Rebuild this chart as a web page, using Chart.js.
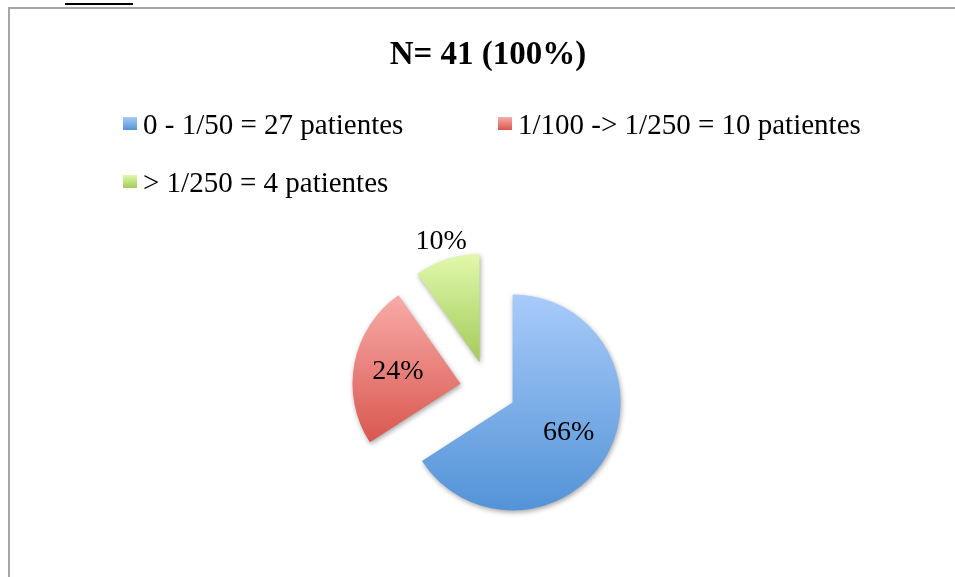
<!DOCTYPE html>
<html>
<head>
<meta charset="utf-8">
<script src="https://cdn.jsdelivr.net/npm/chart.js@4/dist/chart.umd.min.js"></script>
<style>
  html, body { margin: 0; padding: 0; background: #fff; }
  body { width: 955px; height: 577px; position: relative; overflow: hidden; font-family: "Liberation Serif", serif; }
  #frame { position: absolute; left: 8px; top: 7px; width: 1000px; height: 620px; border-left: 2px solid #a6a6a6; border-top: 2px solid #a6a6a6; }
  #caption-line { position: absolute; left: 65px; top: 3px; width: 68px; height: 2px; background: #000; }
  #wrap { position: absolute; left: 0; top: 0; width: 955px; height: 577px; }
  .lg-box { position: absolute; width: 14px; height: 13px; }
  .lg-text { position: absolute; font-size: 29px; line-height: 29px; color: #000; white-space: nowrap; }
</style>
</head>
<body>
<div id="frame"></div>
<div id="caption-line"></div>
<div id="wrap"><canvas id="pie-chart"></canvas></div>
<div id="legend"></div>
<script>
// Chart data
const titleText = "N= 41 (100%)";
const categories = ["0 - 1/50", "1/100 -> 1/250", "> 1/250"];
const patients = [27, 10, 4];
const topColors = ["#a8cbfa", "#f9aba8", "#e1f8ab"];
const bottomColors = ["#5393d7", "#d8574f", "#a3cb5a"];

const total = patients.reduce((a, b) => a + b, 0);
const pieRadius = 108;
const explode = 28; // distance each slice is pulled out

// Build the legend (two columns, like the original)
const legend = document.getElementById("legend");
categories.forEach(function (cat, i) {
  const col = i % 2, row = Math.floor(i / 2);
  const boxX = col === 0 ? 123 : 498;
  const top = 110 + row * 58;
  const box = document.createElement("div");
  box.className = "lg-box";
  box.style.left = boxX + "px";
  box.style.top = (top + 7) + "px";
  box.style.background = "linear-gradient(" + topColors[i] + ", " + bottomColors[i] + ")";
  const txt = document.createElement("div");
  txt.className = "lg-text";
  txt.style.left = (boxX + 20) + "px";
  txt.style.top = top + "px";
  txt.textContent = cat + " = " + patients[i] + " patientes";
  legend.appendChild(box);
  legend.appendChild(txt);
});

// Vertical gradient fitted to each slice
function sliceGradient(context) {
  const chart = context.chart;
  const area = chart.chartArea;
  const i = context.dataIndex;
  if (!area) return topColors[i];
  const cy = (area.top + area.bottom) / 2;
  let before = 0;
  for (let k = 0; k < i; k++) before += patients[k];
  const a0 = -Math.PI / 2 + before / total * 2 * Math.PI;
  const a1 = a0 + patients[i] / total * 2 * Math.PI;
  let minY = 0, maxY = 0;
  for (let s = 0; s <= 60; s++) {
    const y = Math.sin(a0 + (a1 - a0) * s / 60) * pieRadius;
    minY = Math.min(minY, y);
    maxY = Math.max(maxY, y);
  }
  const g = chart.ctx.createLinearGradient(0, cy + minY, 0, cy + maxY);
  g.addColorStop(0, topColors[i]);
  g.addColorStop(1, bottomColors[i]);
  return g;
}

// Exploded slices with a soft shadow, then the percentage labels
const pieExtras = {
  id: "pieExtras",
  beforeDatasetDraw(chart, args) {
    const ctx = chart.ctx;
    ctx.save();
    ctx.shadowColor = "rgba(0,0,0,0.35)";
    ctx.shadowBlur = 5;
    ctx.shadowOffsetX = 1;
    ctx.shadowOffsetY = 2;
    args.meta.data.forEach(function (arc) {
      const mid = (arc.startAngle + arc.endAngle) / 2;
      ctx.save();
      ctx.translate(Math.cos(mid) * explode, Math.sin(mid) * explode);
      arc.draw(ctx);
      ctx.restore();
    });
    ctx.restore();
    return false; // slices already drawn
  },
  afterDatasetsDraw(chart) {
    const ctx = chart.ctx;
    const meta = chart.getDatasetMeta(0);
    ctx.save();
    ctx.font = "28px 'Liberation Serif'";
    ctx.fillStyle = "#000";
    ctx.textAlign = "center";
    ctx.textBaseline = "middle";
    meta.data.forEach(function (arc, i) {
      const mid = (arc.startAngle + arc.endAngle) / 2;
      const frac = patients[i] / total;
      const dist = frac >= 0.15 ? explode + arc.outerRadius * 0.59 : explode + arc.outerRadius + 19;
      const x = arc.x + Math.cos(mid) * dist;
      const y = arc.y + Math.sin(mid) * dist;
      ctx.fillText(Math.round(frac * 100) + "%", x, y);
    });
    ctx.restore();
  }
};

const ctx1 = document.getElementById("pie-chart").getContext("2d");
const myChart = new Chart(ctx1, {
  type: "pie",
  data: {
    labels: categories,
    datasets: [{
      data: patients,
      backgroundColor: sliceGradient,
      borderWidth: 0,
      radius: pieRadius,
    }],
  },
  options: {
    responsive: true,
    maintainAspectRatio: false,
    animation: false,
    layout: {
      padding: { left: 21, right: 0, top: 0, bottom: 9 },
    },
    plugins: {
      legend: { display: false },
      tooltip: { enabled: false },
      title: {
        display: true,
        text: titleText,
        color: "#000",
        font: { family: "'Liberation Serif'", size: 33, weight: "bold" },
        padding: { top: 36, bottom: 134.4 },
      },
    },
  },
  plugins: [pieExtras],
});
</script>
</body>
</html>
